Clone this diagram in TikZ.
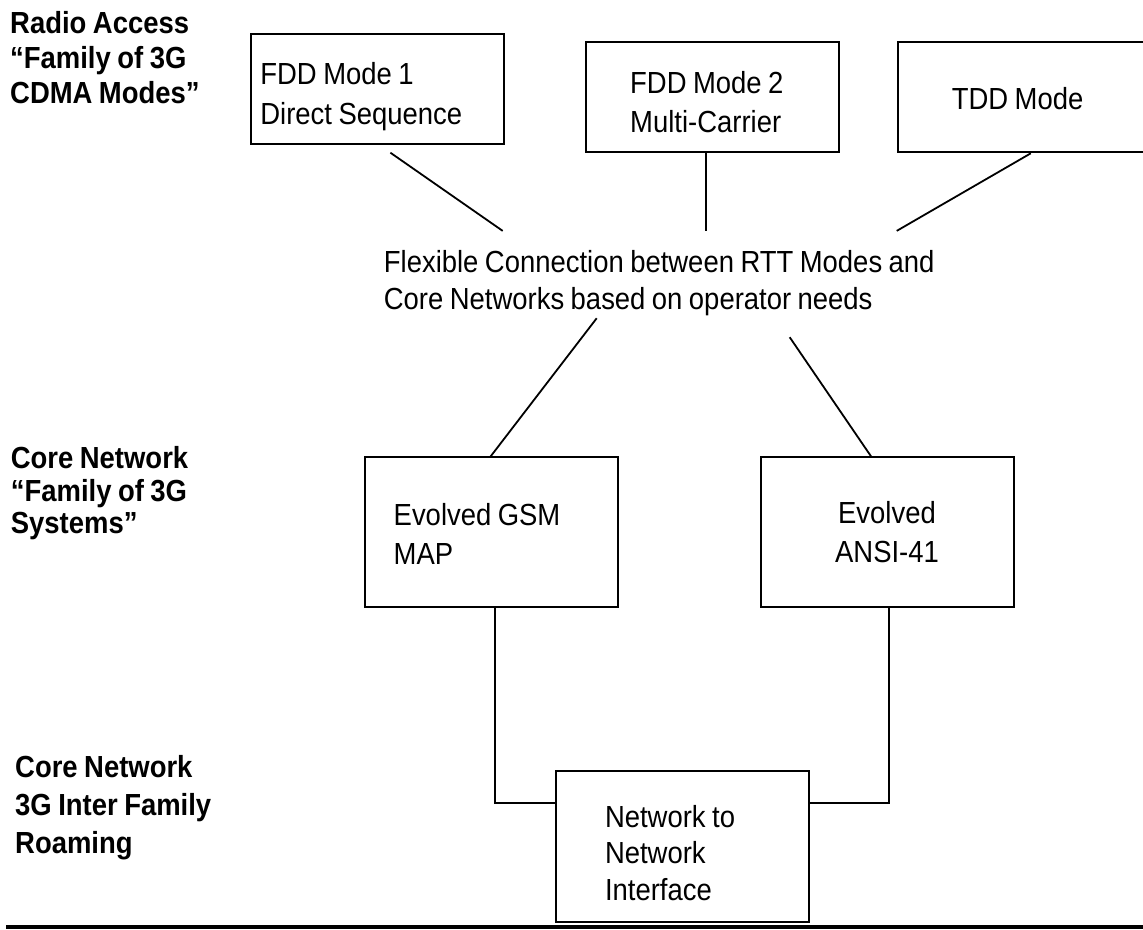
\documentclass[tikz,border=0pt]{standalone}
\usepackage{fontspec}
\setmainfont{Liberation Sans}[FakeStretch=0.9, WordSpace=0.85]

\begin{document}
\begin{tikzpicture}[x=1pt, y=-1pt,
    box/.style={draw, line width=2pt, minimum width=253pt, minimum height=110pt,
                inner sep=0pt, align=flush left, font=\fontsize{30.5}{39}\selectfont},
    heading/.style={anchor=north west, inner sep=0pt, align=left,
                font=\bfseries\fontsize{30.5}{35}\selectfont},
    link/.style={line width=1.8pt}]
    \useasboundingbox (0,0) rectangle (1143,929);

    % layer headings
    \node[heading] (radio) at (10,11.5) {Radio Access\\“Family of 3G\\CDMA Modes”};
    \node[heading, font=\bfseries\fontsize{30.5}{32.5}\selectfont] (core) at (10.7,446.5) {Core Network\\“Family of 3G\\Systems”};
    \node[heading, font=\bfseries\fontsize{30.5}{38}\selectfont] (roam) at (15,755.5) {Core Network\\3G Inter Family\\Roaming};

    % radio modes
    \node[box, text width=234pt, font=\fontsize{30.5}{40}\selectfont] (fdd1) at (377.4,88.7) {\rule{0pt}{37pt}FDD Mode 1\\Direct Sequence};
    \node[box, text width=165pt] (fdd2) at (712.7,97.3) {\rule{0pt}{31pt}FDD Mode 2\\Multi-Carrier};
    \node[box, text width=146pt] (tdd) at (1024.8,97.3) {\rule{0pt}{25pt}TDD Mode};

    \node[anchor=north west, inner sep=0pt, align=left, font=\fontsize{30.5}{37.5}\selectfont] (flex) at (383.7,249.9)
        {Flexible Connection between RTT Modes and\\Core Networks based on operator needs};

    % core networks
    \node[box, minimum height=150pt, text width=196pt] (gsm) at (491.7,532.3) {\rule{0pt}{26pt}Evolved GSM\\MAP};
    \node[box, minimum height=150pt, align=center] (ansi) at (887,532.3) {Evolved\\ANSI-41};
    \node[box, minimum height=151pt, text width=154pt, font=\fontsize{30.5}{36.5}\selectfont] (nni) at (682,846.2) {\rule{0pt}{35pt}Network to\\Network\\Interface};

    \draw[link] ([xshift=13pt,yshift=-8pt]fdd1.south) -- ([xshift=119pt,yshift=19pt]flex.north west);
    \draw[link] ([xshift=-7pt]fdd2.south) -- ([xshift=322pt,yshift=19pt]flex.north west);
    \draw[link] ([xshift=6pt]tdd.south) -- ([xshift=513pt,yshift=19pt]flex.north west);
    \draw[link] ([xshift=213pt,yshift=-2pt]flex.south west) -- ([xshift=-1pt]gsm.north);
    \draw[link] ([xshift=406pt,yshift=-21pt]flex.south west) -- ([xshift=-16pt]ansi.north);
    \draw[link] ([xshift=3pt]gsm.south) |- ([yshift=-33pt]nni.north west);
    \draw[link] ([xshift=2pt]ansi.south) |- ([yshift=-33pt]nni.north east);

    \draw[line width=4pt] (6,927) -- (1150,927);
\end{tikzpicture}
\end{document}
